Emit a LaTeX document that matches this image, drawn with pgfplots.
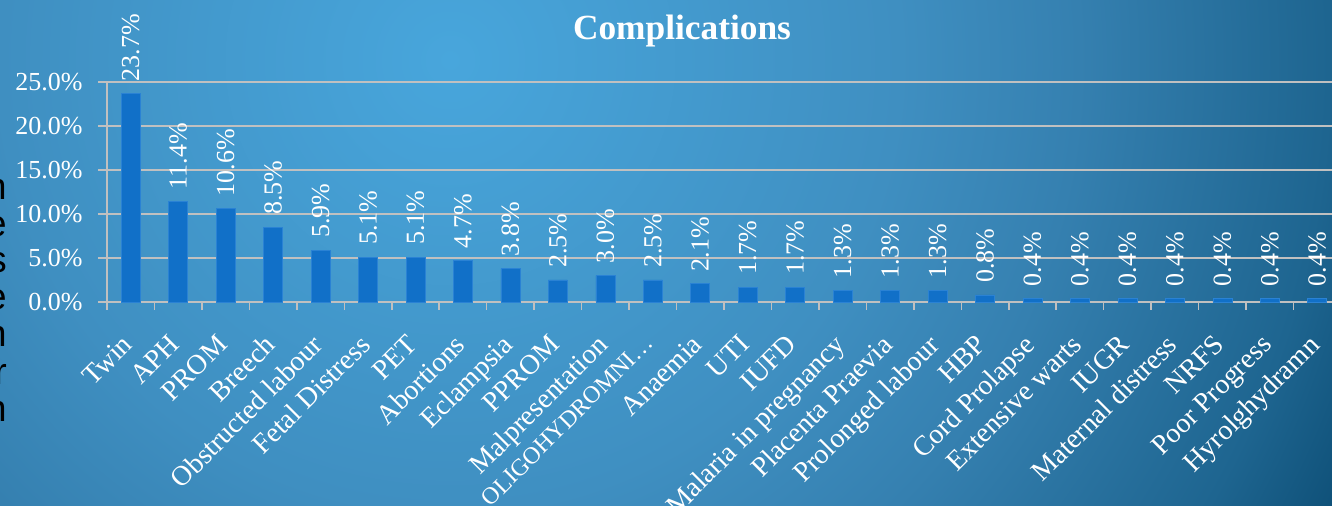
\documentclass[border=0pt]{standalone}
\usepackage{fontspec}
\setmainfont{Liberation Serif}
\newfontfamily\sidefont{Liberation Sans}
\usepackage{pgfplots}
\pgfplotsset{compat=1.18}

\definecolor{barblue}{RGB}{17,112,200}
\definecolor{baredge}{RGB}{42,130,212}
\definecolor{gridgray}{RGB}{192,192,192}
\definecolor{bgA}{RGB}{72,166,220}
\definecolor{bgB}{RGB}{63,143,193}
\definecolor{bgC}{RGB}{53,128,176}
\definecolor{bgD}{RGB}{30,101,144}
\definecolor{bgE}{RGB}{16,82,122}
\definecolor{bgF}{RGB}{14,78,118}

% radii in bp: 1px = 0.75pt
\pgfdeclareradialshading{bgshade}{\pgfpoint{0bp}{0bp}}{%
  color(0bp)=(bgA); color(336bp)=(bgB); color(470bp)=(bgC);
  color(657bp)=(bgD); color(735bp)=(bgE); color(747bp)=(bgF)}

\newcommand\lbl{\fontsize{19.5}{21}\selectfont}
\newcommand\cat{\fontsize{21}{23}\selectfont}

\begin{document}
\begin{tikzpicture}[x=0.75pt,y=0.75pt]
\useasboundingbox (0,0) rectangle (1332,506);
\clip (0,0) rectangle (1332,506);
\node[inner sep=0pt] at (450,446) {\pgfuseshading{bgshade}};

\begin{axis}[
    at={(80.25pt,153pt)}, anchor=south west,
    scale only axis, width=925.5pt, height=165pt,
    xmin=-0.5, xmax=25.5, ymin=0, ymax=25,
    clip=false,
    ybar, bar width=14.25pt,
    /pgf/number format/assume math mode=true,
    axis x line*=bottom, axis y line*=left,
    axis line style={gridgray, line width=1.2pt, -},
    ymajorgrids, grid style={gridgray, line width=1.2pt},
    tick style={gridgray, line width=1.2pt},
    tick align=outside, major tick length=6.75pt, minor tick length=6pt,
    major x tick style={draw=none},
    ytick={0,5,10,15,20,25},
    yticklabel={\pgfmathprintnumber[fixed,fixed zerofill,precision=1]{\tick}\%},
    yticklabel style={text=white, font=\lbl, xshift=-8pt},
    xtick={0,...,25},
    minor xtick={-0.5,0.5,...,25.5},
    xticklabels={Twin,APH,PROM,Breech,Obstructed labour,Fetal Distress,PET,Abortions,Eclampsia,PPROM,Malpresentation,{\fontsize{18}{19}\selectfont OLIGOHYDROMNI…},Anaemia,UTI,IUFD,Malaria in pregnancy,Placenta Praevia,Prolonged labour,HBP,Cord Prolapse,Extensive warts,IUGR,Maternal distress,NRFS,Poor Progress,Hyrolghydramn},
    xticklabel shift=15pt,
    xticklabel style={xshift=-7.5pt, rotate=45, anchor=north east, text=white, font=\cat, inner sep=1pt},
    nodes near coords={\pgfmathprintnumber[fixed,fixed zerofill,precision=1]{\pgfplotspointmeta}\%},
    nodes near coords style={rotate=90, anchor=west, text=white, font=\lbl, inner xsep=9pt, inner ysep=0pt},
]
\addplot[fill=barblue, draw=baredge, line width=0.5pt] coordinates {
    (0,23.7) (1,11.4) (2,10.6) (3,8.5) (4,5.9) (5,5.1) (6,5.1) (7,4.7)
    (8,3.8) (9,2.5) (10,3.0) (11,2.5) (12,2.1) (13,1.7) (14,1.7) (15,1.3)
    (16,1.3) (17,1.3) (18,0.8) (19,0.4) (20,0.4) (21,0.4) (22,0.4) (23,0.4)
    (24,0.4) (25,0.4)
};
\end{axis}

\node[anchor=base, text=white, font=\fontsize{26.5}{28}\selectfont\bfseries] at (682,466) {Complications};

\foreach \ch/\yy in {n/200,e/237,s/273,e/310,n/347,r/385,n/422}
  \node[anchor=base east, inner sep=0pt, text=black, font=\sidefont\fontsize{28}{28}\selectfont] at (7,{506-\yy}) {\ch};
\end{tikzpicture}
\end{document}
